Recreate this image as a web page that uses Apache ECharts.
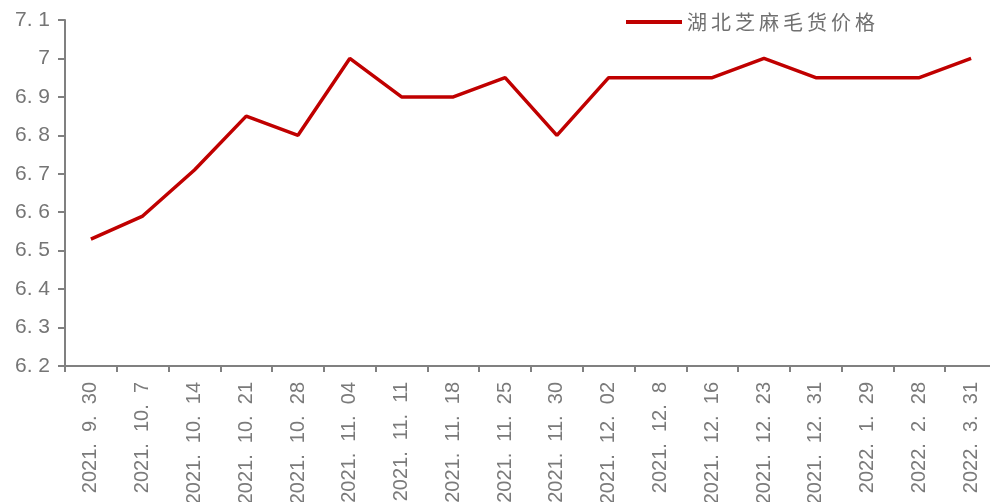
<!DOCTYPE html>
<html><head><meta charset="utf-8">
<script src="https://cdn.jsdelivr.net/npm/echarts@6/dist/echarts.min.js"></script>
<style>html,body{margin:0;padding:0;background:#fff}#c{width:990px;height:502px}</style>
</head><body><div id="c"></div>
<script>
const categories = ["2021.9.30","2021.10.7","2021.10.14","2021.10.21","2021.10.28","2021.11.04","2021.11.11","2021.11.18","2021.11.25","2021.11.30","2021.12.02","2021.12.8","2021.12.16","2021.12.23","2021.12.31","2022.1.29","2022.2.28","2022.3.31"];
const values = [6.53,6.59,6.71,6.85,6.80,7.00,6.90,6.90,6.95,6.80,6.95,6.95,6.95,7.00,6.95,6.95,6.95,7.00];
const seriesName = "湖北芝麻毛货价格";
const yMin = 6.2, yMax = 7.1, yStep = 0.1;

const chart = echarts.init(document.getElementById('c'));
const gray = '#808080';
chart.setOption({
  animation:false,
  grid:{left:65, width:932, top:20, bottom:136, outerBoundsMode:'none', containLabel:false},
  legend:{show:true, top:7, left:621, itemWidth:56, itemHeight:4, itemGap:8,
    icon:'rect',
    formatter:n=>n.split('').join('\u2009'),
    textStyle:{fontFamily:'Noto Sans CJK SC', fontSize:20, color:'#707070'},
    data:[{name:seriesName}]},
  xAxis:{type:'category', data:categories, boundaryGap:true,
    axisLine:{lineStyle:{color:gray, width:2}},
    axisTick:{show:true, length:6, lineStyle:{color:gray, width:2}},
    axisLabel:{rotate:90, interval:0, margin:16, color:'#7a7a7a', fontFamily:'Liberation Sans', fontSize:20,
      formatter:v=>v.replace(/\./g,'.  ')}},
  yAxis:{type:'value', min:yMin, max:yMax, interval:yStep,
    splitLine:{show:false},
    axisLine:{show:true, lineStyle:{color:gray, width:2}},
    axisTick:{show:true, length:7, lineStyle:{color:gray, width:2}},
    axisLabel:{margin:15, color:'#757575', fontFamily:'Liberation Sans', fontSize:21,
      formatter:v=>{let s=(Math.round(v*10)/10).toString(); return s.replace('.','. ');}}},
  series:[{name:seriesName, type:'line', data:values, symbol:'none',
    lineStyle:{color:'#C00000', width:3.5}, itemStyle:{color:'#C00000'}}]
});
</script></body></html>
